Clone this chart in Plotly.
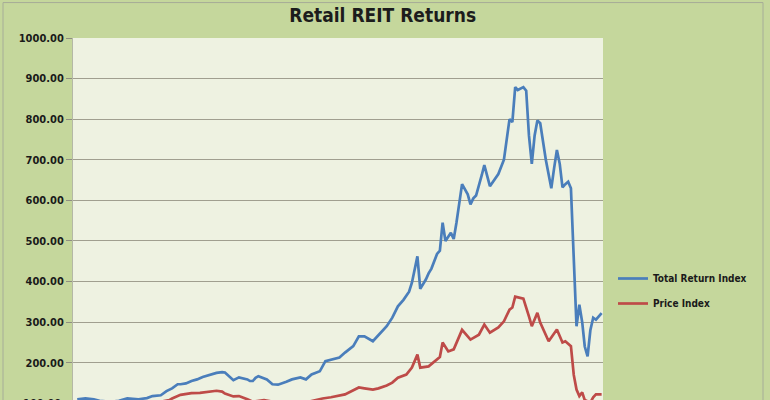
import plotly.graph_objects as go
import pandas as pd

# ---- data (month offsets from start, index values) ----
start = "1993-12-01"

total_return_months = [1, 4, 7, 9, 13, 16, 19, 23, 26, 28, 31, 33, 35, 37, 38, 40, 42, 44, 46, 47,
                       50, 51, 53, 54, 57, 59, 62, 63, 64, 65, 66, 69, 71, 73, 76, 78, 81, 83, 85, 88,
                       90, 92, 95, 97, 100, 102, 104, 107, 109, 112, 114, 116, 118, 120, 121, 122, 123, 124, 126, 127,
                       128, 130, 131, 132, 133, 135, 136, 137, 138, 139, 141, 142, 143, 144, 146, 147, 149, 152, 154, 156,
                       157, 158, 159, 161, 162, 163, 164, 165, 166, 167, 169, 170, 171, 172, 173, 174, 175, 176, 177, 178,
                       179, 180, 181, 182, 183, 184, 185, 186, 187, 188, 189]
total_return_values = [110, 112, 110, 106, 104, 106, 112, 110, 113, 118, 120, 130, 137, 147, 147, 149, 155, 159, 165, 167,
                       174, 175, 177, 176, 157, 164, 159, 155, 155, 163, 167, 159, 147, 146, 153, 159, 164, 159, 171, 179,
                       204, 208, 213, 225, 241, 265, 265, 253, 268, 290, 311, 339, 355, 375, 397, 430, 462, 382, 405, 420,
                       432, 468, 476, 545, 500, 520, 505, 545, 594, 640, 615, 590, 605, 612, 662, 687, 635, 665, 700, 800,
                       793, 879, 872, 879, 870, 760, 690, 760, 797, 790, 700, 660, 630, 680, 724, 690, 632, 640, 646, 630,
                       460, 290, 343, 300, 240, 216, 280, 311, 306, 313, 322]

price_months = [2, 9, 16, 23, 31, 34, 35, 38, 42, 45, 48, 51, 53, 54, 57, 59, 62, 64, 68, 72,
                77, 81, 84, 89, 92, 97, 102, 104, 107, 109, 112, 114, 116, 119, 121, 123, 124, 127, 130, 131,
                132, 134, 136, 139, 142, 145, 147, 149, 152, 154, 156, 157, 158, 160, 161, 163, 164, 166, 167, 170,
                173, 175, 176, 178, 179, 180, 181, 182, 183, 185, 186, 187, 189]
price_values = [100, 97, 98, 100, 104, 108, 112, 121, 125, 126, 128, 131, 129, 124, 117, 118, 110, 104, 108, 103,
                100, 102, 104, 112, 115, 122, 139, 137, 134, 137, 144, 151, 163, 171, 188, 220, 188, 191, 208, 214,
                250, 228, 233, 281, 257, 269, 294, 274, 287, 302, 331, 336, 363, 360, 358, 314, 290, 323, 299, 253,
                282, 250, 253, 241, 170, 134, 118, 127, 108, 102, 115, 122, 122]

y_ticks = [200, 300, 400, 500, 600, 700, 800, 900, 1000]
series_names = ["Total Return Index", "Price Index"]
title_text = "Retail REIT Returns"

# ---- build ----
t0 = pd.Timestamp(start)
def to_dates(ms):
    return [t0 + pd.DateOffset(months=m) for m in ms]

x_lo = t0 - pd.Timedelta(days=15)
x_hi = t0 + pd.DateOffset(months=189) + pd.Timedelta(days=15)

W, H = 770, 400
L, R, T, B = 73, 167, 37.5, 0
px_per_100 = 40.65
y_min = 1000 - (H - T - B) / px_per_100 * 100

font_fam = "DejaVu Sans Condensed, Liberation Sans Narrow, sans-serif"

fig = go.Figure()
fig.add_trace(go.Scatter(x=to_dates(total_return_months), y=total_return_values, mode="lines",
                         name=series_names[0], legendgroup="a",
                         line=dict(color="#4a7ebb", width=2.7)))
fig.add_trace(go.Scatter(x=to_dates(price_months), y=price_values, mode="lines",
                         name=series_names[1], legendgroup="b",
                         line=dict(color="#be4b48", width=2.7)))

fig.update_layout(
    width=W, height=H,
    margin=dict(l=L, r=R, t=T, b=B, pad=0),
    paper_bgcolor="#c5d79c",
    plot_bgcolor="#eef2e1",
    title=dict(text=title_text, x=0.497, xanchor="center", y=1 - 15 / H, yanchor="middle",
               font=dict(family=font_fam, size=19, color="#1c1c1c", weight="bold")),
    xaxis=dict(range=[x_lo, x_hi], showgrid=False, showticklabels=False, ticks="",
               showline=False, zeroline=False),
    yaxis=dict(range=[y_min, 1000], tickvals=y_ticks, tickformat=".2f",
               showgrid=True, gridcolor="#a09f8f", gridwidth=1.2,
               ticks="outside", ticklen=6, tickcolor="#8f8f80", tickwidth=1,
               showline=True, linecolor="#b4b8a6", linewidth=1,
               tickfont=dict(family=font_fam, size=11, color="#1a1a1a", weight="bold"),
               zeroline=False),
    legend=dict(xref="container", yref="container", x=613 / W, y=1 - 264 / H,
                xanchor="left", yanchor="top", bgcolor="rgba(0,0,0,0)",
                tracegroupgap=6, traceorder="grouped",
                font=dict(family=font_fam, size=10, color="#1a1a1a", weight="bold")),
    showlegend=True,
)

# outer frame line of the picture
pw = W - L - R
ph = H - T - B
fig.add_shape(type="rect", xref="paper", yref="paper",
              x0=(3 - L) / pw, x1=(763 - L) / pw, y0=-0.2, y1=(H - 2) / ph,
              line=dict(color="#a6ad98", width=1), fillcolor="rgba(0,0,0,0)", layer="below")

# partially visible bottom tick label
fig.add_annotation(text="100.00", xref="paper", yref="paper", x=(63 - L) / pw, y=(H - 403.3) / ph,
                   xanchor="right", yanchor="middle", showarrow=False,
                   font=dict(family=font_fam, size=11, color="#1a1a1a", weight="bold"))

fig.write_html("out.html", config={"displayModeBar": False},
               post_script="document.body.style.margin='0';document.body.style.overflow='hidden';")
